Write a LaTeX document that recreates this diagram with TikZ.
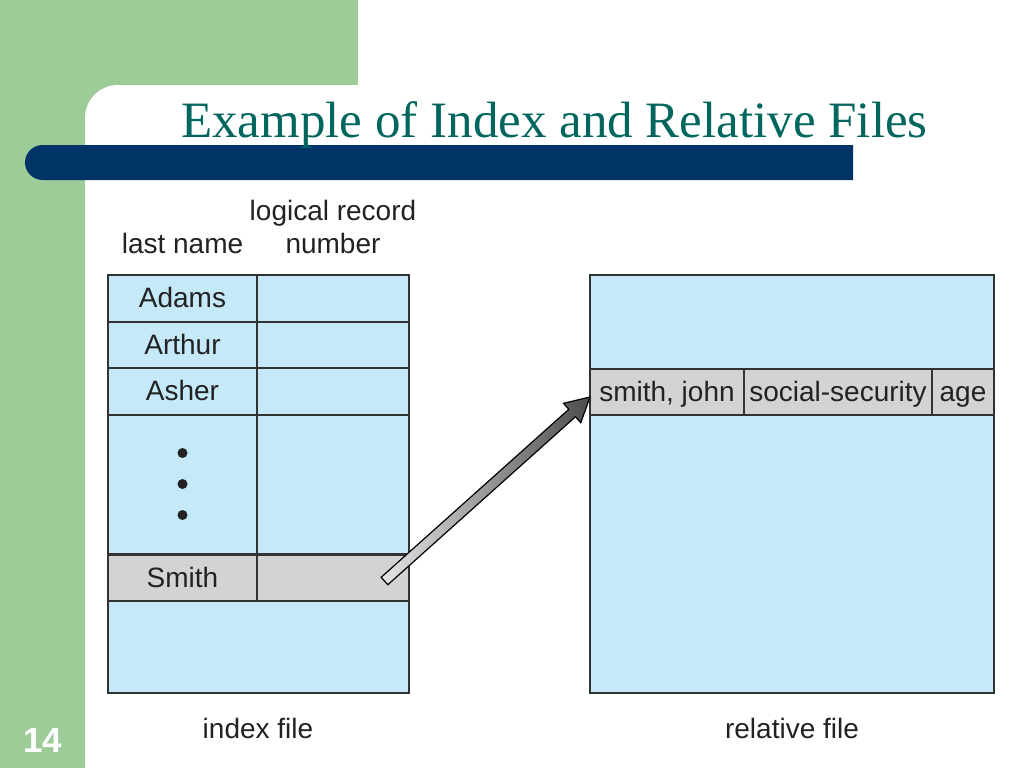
\documentclass[tikz,border=0pt]{standalone}
\usepackage{fontspec}
\setmainfont{Liberation Serif}
\setsansfont{Liberation Sans}
\usetikzlibrary{calc}
\definecolor{slidegreen}{HTML}{9DCC99}
\definecolor{slideblue}{HTML}{003366}
\definecolor{titleteal}{HTML}{00665E}
\definecolor{cellblue}{HTML}{C5E9F8}
\definecolor{cellgray}{HTML}{D3D3D3}
\definecolor{cellline}{HTML}{333333}
\definecolor{celltext}{HTML}{222222}
\begin{document}
\begin{tikzpicture}[x=1pt, y=-1pt, font=\sffamily\fontsize{28}{32}\selectfont, cell/.style={draw=cellline, line width=1.5pt, fill=cellblue, text=celltext, inner sep=0pt, outer sep=0pt, text height=21pt, text depth=3pt}, greycell/.style={cell, fill=cellgray}, caption/.style={text=celltext, inner sep=0pt, anchor=base}, line join=miter]
        \useasboundingbox (0,0) rectangle (1024,768);
        \fill[slidegreen] (0,0) rectangle (358,768);
        \fill[white] (85,768) -- (85,118) arc (180:90:33pt) -- (1024,85) -- (1024,768) -- cycle;
        \fill[slideblue] (853,145) -- (42.5,145) arc (90:270:17.5pt) -- (853,180) -- cycle;
        \node[font=\rmfamily\fontsize{51}{56}\selectfont, text=titleteal, anchor=base, inner sep=0pt] (title) at (554.5,137) {Example of Index and Relative Files};
        \node[font=\sffamily\bfseries\fontsize{35}{40}\selectfont, text=white, inner sep=0pt] (page) at (42.5,740.5) {14};
        \node[caption] (logical) at (333,220) {logical record};
        \node[caption] (number) at (333,253) {number};
        \node[caption] (lastname) at (182.5,253) {last name};
        \node[cell, minimum width=149pt, minimum height=47pt] (adams) at (182.5,298.5) {Adams};
        \node[cell, minimum width=152pt, minimum height=47pt] (adamsnum) at (333,298.5) {};
        \node[cell, minimum width=149pt, minimum height=46pt] (arthur) at (182.5,345) {Arthur};
        \node[cell, minimum width=152pt, minimum height=46pt] (arthurnum) at (333,345) {};
        \node[cell, minimum width=149pt, minimum height=47pt] (asher) at (182.5,391.5) {Asher};
        \node[cell, minimum width=152pt, minimum height=47pt] (ashernum) at (333,391.5) {};
        \node[cell, minimum width=149pt, minimum height=139pt] (gap) at (182.5,484.5) {};
        \node[cell, minimum width=152pt, minimum height=139pt] (gapnum) at (333,484.5) {};
        \node[greycell, minimum width=149pt, minimum height=46pt] (smith) at (182.5,578) {Smith};
        \node[greycell, minimum width=152pt, minimum height=46pt] (smithnum) at (333,578) {};
        \node[cell, minimum width=301pt, minimum height=92pt] (indexrest) at (258.5,647) {};
        \node[circle, fill=celltext, inner sep=0pt, minimum size=10pt] (dot1) at (182.5,453) {};
        \node[circle, fill=celltext, inner sep=0pt, minimum size=10pt] (dot2) at (182.5,484) {};
        \node[circle, fill=celltext, inner sep=0pt, minimum size=10pt] (dot3) at (182.5,515) {};
        \node[cell, minimum width=404pt, minimum height=94pt] (reltop) at (792,322) {};
        \node[greycell, minimum width=154pt, minimum height=46pt] (smithjohn) at (667,392) {smith, john};
        \node[greycell, minimum width=188pt, minimum height=46pt] (ssn) at (838,392) {social-security};
        \node[greycell, minimum width=62pt, minimum height=46pt] (age) at (963,392) {age};
        \node[cell, minimum width=404pt, minimum height=278pt] (relrest) at (792,554) {};
        \node[caption] (indexfile) at (258,738) {index file};
        \node[caption] (relfile) at (792,738) {relative file};
        \coordinate (tail) at (384.5,581);
        \coordinate (tip) at ($(smithjohn.west)+(0,5)$);
        \coordinate (neck) at ($(tip)!24pt!(tail)$);
        \shadedraw[draw=black, line width=1.2pt, left color=black!10, right color=black!70]
            ($(tail)!5pt!90:(tip)$) -- ($(neck)!5pt!-90:(tail)$) -- ($(neck)!13pt!-90:(tail)$) -- (tip)
            -- ($(neck)!13pt!90:(tail)$) -- ($(neck)!5pt!90:(tail)$) -- ($(tail)!5pt!-90:(tip)$) -- cycle;
    \end{tikzpicture}
\end{document}
